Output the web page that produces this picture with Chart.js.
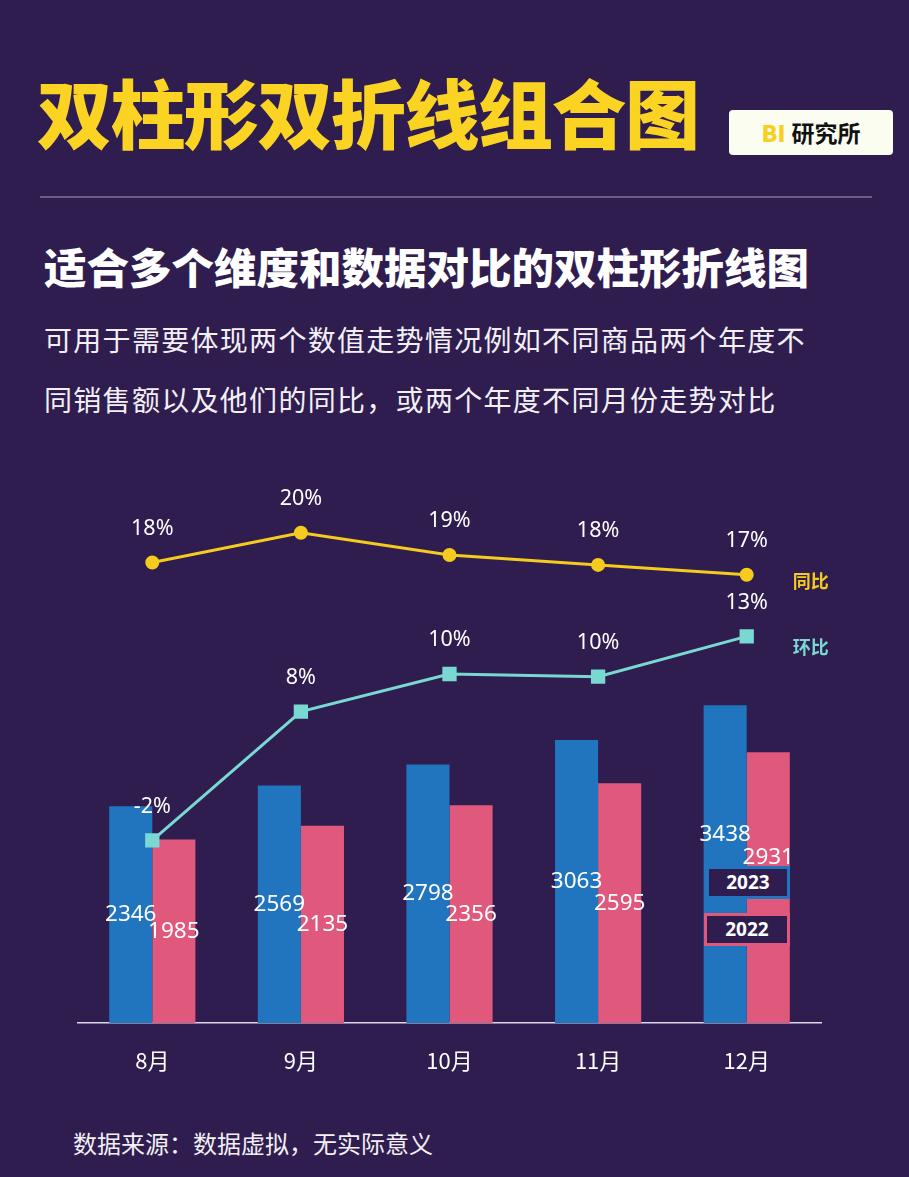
<!DOCTYPE html>
<html>
<head>
<meta charset="utf-8">
<script src="https://cdn.jsdelivr.net/npm/chart.js@4.4.1/dist/chart.umd.min.js"></script>
<style>
body { margin: 0; width: 909px; height: 1177px; background: #2f1d4f; position: relative; overflow: hidden;
       font-family: "Noto Sans CJK SC", sans-serif; }
.title { position: absolute; left: 37px; top: 73px; font-size: 75px; line-height: 1; font-weight: 900; color: #fbd423;
         letter-spacing: -1.5px; white-space: nowrap; }
.badge { position: absolute; left: 729px; top: 110px; width: 164px; height: 45px; background: #fbfdf0; border-radius: 4px;
         font-size: 23px; font-weight: 700; line-height: 45px; text-align: center; color: #111; }
.badge b { color: #f6cf1f; margin-right: 6px; }
.rule { position: absolute; left: 40px; top: 196px; width: 832px; height: 2px; background: #6a5e88; }
.sub { position: absolute; left: 44px; top: 245px; font-size: 42.5px; line-height: 1; font-weight: 900; color: #fff; white-space: nowrap; }
.desc { position: absolute; left: 44px; top: 309px; font-size: 28px; line-height: 60px; letter-spacing: 1.3px; color: #f2f0f5; white-space: nowrap; }
.foot { position: absolute; left: 73px; top: 1128px; font-size: 24px; line-height: 30px; color: #f2f0f5; }
#wrap { position: absolute; left: 0; top: 440px; width: 909px; height: 660px; }
.yr { position: absolute; height: 27px; border: 3px solid; background: #2f1d4f; color: #fff; font-family: "Noto Sans", sans-serif;
      font-weight: 700; font-size: 19px; line-height: 27px; text-align: center; }
</style>
</head>
<body>
<div class="title">双柱形双折线组合图</div>
<div class="badge"><b>BI</b>研究所</div>
<div class="rule"></div>
<div class="sub">适合多个维度和数据对比的双柱形折线图</div>
<div class="desc">可用于需要体现两个数值走势情况例如不同商品两个年度不<br>同销售额以及他们的同比，或两个年度不同月份走势对比</div>
<div id="wrap"><canvas id="myChart" width="909" height="660"></canvas></div>
<div class="yr" style="left:706px; top:866px; width:78px; border-color:#2075be;">2023</div>
<div class="yr" style="left:704px; top:913px; width:80px; border-color:#e0587b;">2022</div>
<div class="foot">数据来源：数据虚拟，无实际意义</div>
<script>
var months = ["8月", "9月", "10月", "11月", "12月"];
var sales2023 = [2346, 2569, 2798, 3063, 3438];
var sales2022 = [1985, 2135, 2356, 2595, 2931];
// 同比 / 环比, in %, labels are shown rounded
var yoy = [18.0, 20.4, 18.6, 17.8, 17.0];
var mom = [-2.0, 7.6, 10.4, 10.2, 13.2];

var numFont = '"Noto Sans", "Open Sans", sans-serif';

var labelPlugin = {
    id: 'valueLabels',
    afterDatasetsDraw: function(chart) {
        var ctx = chart.ctx;
        ctx.save();
        ctx.textAlign = 'center';
        ctx.textBaseline = 'middle';
        chart.data.datasets.forEach(function(ds, i) {
            var meta = chart.getDatasetMeta(i);
            meta.data.forEach(function(el, j) {
                ctx.fillStyle = '#ffffff';
                if (ds.type === 'bar') {
                    ctx.font = '22.5px ' + numFont;
                    var y = (el.y + el.base) / 2;
                    // last pair sits above the year boxes
                    if (j === ds.data.length - 1) y -= 30;
                    ctx.fillText(ds.data[j], el.x, y);
                } else {
                    ctx.font = '21.5px ' + numFont;
                    ctx.fillText(Math.round(ds.data[j]) + '%', el.x, el.y - 34);
                }
            });
            if (ds.type === 'line') {
                var last = meta.data[meta.data.length - 1];
                ctx.fillStyle = ds.borderColor;
                ctx.textAlign = 'left';
                ctx.font = 'bold 18px "Noto Sans CJK SC", sans-serif';
                ctx.fillText(ds.label, last.x + 46, last.y + ds.nameDy);
                ctx.textAlign = 'center';
            }
        });
        ctx.restore();
    }
};

var ctx1 = document.getElementById("myChart");
var myChart1 = new Chart(ctx1, {
    data: {
        labels: months,
        datasets: [
            {
                type: 'line',
                label: '同比',
                data: yoy,
                yAxisID: 'yYoy',
                borderColor: '#f5cb1d',
                backgroundColor: '#f5cb1d',
                borderWidth: 3,
                pointStyle: 'circle',
                pointRadius: 5.5,
                nameDy: 6,
                order: 0
            },
            {
                type: 'line',
                label: '环比',
                data: mom,
                yAxisID: 'yMom',
                borderColor: '#7ad8d3',
                backgroundColor: '#7ad8d3',
                borderWidth: 3,
                pointStyle: 'rect',
                pointRadius: 8,
                nameDy: 11,
                order: 0
            },
            {
                type: 'bar',
                label: '2023',
                data: sales2023,
                yAxisID: 'y',
                backgroundColor: '#2075be',
                order: 1
            },
            {
                type: 'bar',
                label: '2022',
                data: sales2022,
                yAxisID: 'y',
                backgroundColor: '#e0587b',
                order: 1
            }
        ]
    },
    options: {
        responsive: false,
        animation: false,
        categoryPercentage: 0.58,
        barPercentage: 1.0,
        layout: { padding: { left: 78, right: 88, top: 28.6, bottom: 27 } },
        plugins: {
            legend: { display: false },
            tooltip: { enabled: false }
        },
        scales: {
            x: {
                grid: { display: false, drawTicks: false },
                border: { display: true, color: '#dcd8ea', width: 1.5 },
                ticks: { color: '#ffffff', padding: 24, font: { size: 22, family: '"Noto Sans CJK SC", sans-serif' } },
                afterFit: function(scale) { scale.height = 50; }
            },
            y: { display: false, min: 0, max: 6000 },
            yYoy: { display: false, min: -19.3, max: 25.6 },
            yMom: { display: false, min: -15.6, max: 25.7 }
        }
    },
    plugins: [labelPlugin]
});
</script>
</body>
</html>
